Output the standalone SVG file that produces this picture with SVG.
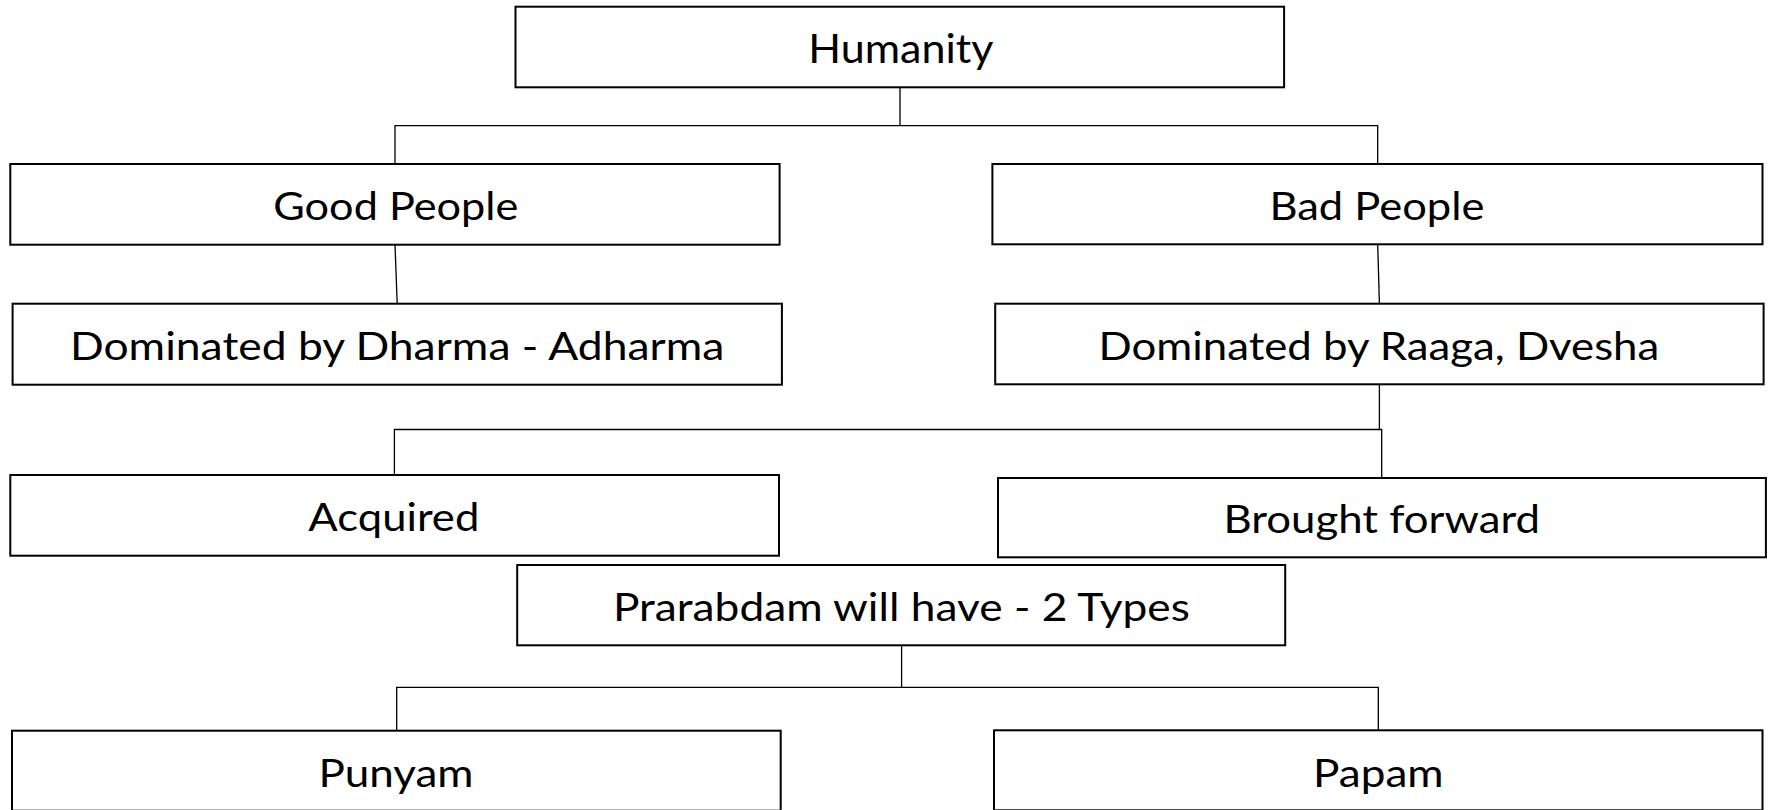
<svg xmlns="http://www.w3.org/2000/svg" width="1770" height="810" viewBox="0 0 1770 810">
<style>
.box{fill:#fff;stroke:#000;stroke-width:2}
.lbl{font-family:Lato,"Open Sans","Liberation Sans",sans-serif;font-size:38px;fill:#000;text-anchor:middle}
.big{font-size:41px}
.conn{fill:none;stroke:#000;stroke-width:1.3}
</style>
<rect width="1770" height="810" fill="#fff"/>
<g id="connectors">
<path class="conn" d="M900,87.3 V125.7 H395 V164 M900,125.7 H1377.7 V164"/>
<path class="conn" d="M395,244.7 L397.2,303.7"/>
<path class="conn" d="M1377.7,244.3 L1379.4,303.7"/>
<path class="conn" d="M1379.4,384.3 V429.5 H394.4 V475 M1379.4,429.5 H1381.7 V478"/>
<path class="conn" d="M901.6,645.3 V687.3 H396.7 V730.7 M901.6,687.3 H1378.3 V730.3"/>
</g>
<g id="humanity"><rect class="box" x="515.5" y="6.7" width="768.6" height="80.6"/><text class="lbl big" x="900.8" y="62.7" textLength="185" lengthAdjust="spacingAndGlyphs">Humanity</text></g>
<g id="good-people"><rect class="box" x="10.3" y="164" width="769.3" height="80.7"/><text class="lbl" x="395.8" y="219.7" textLength="245" lengthAdjust="spacingAndGlyphs">Good People</text></g>
<g id="bad-people"><rect class="box" x="992.4" y="164" width="770.1" height="80.3"/><text class="lbl" x="1376.9" y="219.7" textLength="215" lengthAdjust="spacingAndGlyphs">Bad People</text></g>
<g id="dharma"><rect class="box" x="12.6" y="303.7" width="769.3" height="81"/><text class="lbl" x="397.2" y="360" textLength="654.5" lengthAdjust="spacingAndGlyphs">Dominated by Dharma - Adharma</text></g>
<g id="raaga"><rect class="box" x="995.2" y="303.7" width="768.4" height="80.6"/><text class="lbl" x="1378.9" y="360" textLength="560.7" lengthAdjust="spacingAndGlyphs">Dominated by Raaga, Dvesha</text></g>
<g id="acquired"><rect class="box" x="10.3" y="475" width="768.7" height="80.7"/><text class="lbl" x="393.8" y="530.7" textLength="171" lengthAdjust="spacingAndGlyphs">Acquired</text></g>
<g id="brought-forward"><rect class="box" x="998" y="478" width="767.9" height="79.3"/><text class="lbl" x="1381.7" y="533.3" textLength="316.6" lengthAdjust="spacingAndGlyphs">Brought forward</text></g>
<g id="prarabdam"><rect class="box" x="517.2" y="565" width="768" height="80.3"/><text class="lbl" x="901.4" y="620.7" textLength="577" lengthAdjust="spacingAndGlyphs">Prarabdam will have - 2 Types</text></g>
<g id="punyam"><rect class="box" x="12" y="730.7" width="768.7" height="80"/><text class="lbl" x="396" y="786.7" textLength="155" lengthAdjust="spacingAndGlyphs">Punyam</text></g>
<g id="papam"><rect class="box" x="994" y="730.3" width="768.5" height="80"/><text class="lbl" x="1378.3" y="786.7" textLength="130.6" lengthAdjust="spacingAndGlyphs">Papam</text></g>
</svg>
